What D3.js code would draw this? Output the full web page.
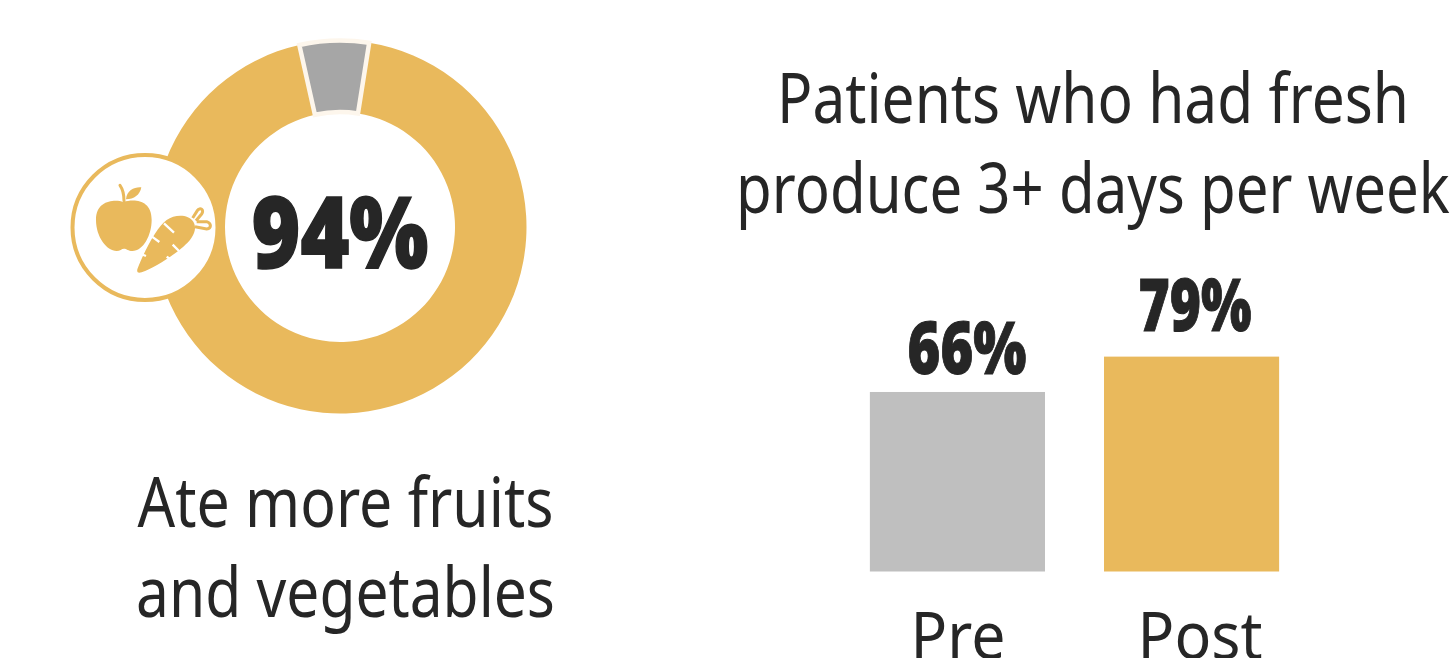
<!DOCTYPE html>
<html>
<head>
<meta charset="utf-8">
<script src="https://cdn.jsdelivr.net/npm/d3@7"></script>
<style>
  html, body { margin: 0; padding: 0; background: #fff; overflow: hidden; }
  text { fill: #262626; font-family: "Noto Sans", sans-serif; }
</style>
</head>
<body>
<div id="chart"></div>
<script>
// Chart values
const donutValues = [94, 6];
const donutCenterLabel = "94%";
const donutCaption = ["Ate more fruits", "and vegetables"];

const barTitle = ["Patients who had fresh", "produce 3+ days per week"];
const barCategories = ["Pre", "Post"];
const barValues = [66, 79];

const gold = "#e9b95c";
const greys = { slice: "#a6a6a6", bar: "#bfbfbf" };

const svg = d3.select("#chart")
    .append("svg")
    .attr("width", 1455)
    .attr("height", 658)
    .style("display", "block");

// Squeeze a text to the width it has in the picture
function label(x, y, str, size, width, weight) {
    const t = svg.append("text")
        .attr("text-anchor", "middle")
        .attr("font-size", size)
        .attr("font-weight", weight || 400)
        .text(str);
    const sx = width / t.node().getComputedTextLength();
    t.attr("transform", `translate(${x},${y}) scale(${sx},1)`);
    return t;
}

// Donut
const pie = d3.pie()
    .sort(null)
    .startAngle(9 * Math.PI / 180)
    .endAngle(369 * Math.PI / 180);
const arc = d3.arc().innerRadius(115).outerRadius(186.5);

const donut = svg.append("g").attr("transform", "translate(340,227)");
donut.selectAll("path")
    .data(pie(donutValues))
    .join("path")
    .attr("d", arc)
    .attr("fill", (d, i) => i === 0 ? gold : greys.slice);
// cream outline sits on top of the grey slice only
donut.append("path")
    .datum(pie(donutValues)[1])
    .attr("d", arc)
    .attr("fill", "none")
    .attr("stroke", "#fdf6ec")
    .attr("stroke-width", 4.5);

label(340, 268, donutCenterLabel, 100, 177, 900)
    .attr("stroke", "#262626")
    .attr("stroke-width", 1.5);

// Icon badge
svg.append("circle")
    .attr("cx", 145)
    .attr("cy", 227.5)
    .attr("r", 72.5)
    .attr("fill", "#fff")
    .attr("stroke", gold)
    .attr("stroke-width", 4);

const icon = svg.append("g").attr("transform", "translate(60,140) scale(0.3333)");
// apple
icon.append("path")
    .attr("fill", gold)
    .attr("d", "M190 186C165 178 108 180 108 240C108 290 140 333 170 333C180 333 185 326 192 326C200 326 205 333 217 333C250 333 275 285 275 240C275 180 225 176 190 186Z");
icon.append("path")
    .attr("fill", gold)
    .attr("d", "M198 178C200 150 225 140 244 142C240 165 222 178 198 178Z");
icon.append("path")
    .attr("fill", "none")
    .attr("stroke", gold)
    .attr("stroke-width", 9)
    .attr("stroke-linecap", "round")
    .attr("d", "M180 136C190 150 192 165 192 182");
// carrot
icon.append("path")
    .attr("fill", "none")
    .attr("stroke", gold)
    .attr("stroke-width", 9)
    .attr("d", "M398 234L412 212C420 200 434 210 425 222L408 242M410 245L440 245C455 250 455 265 440 267L405 260");
icon.append("path")
    .attr("fill", gold)
    .attr("d", "M232 388C250 340 290 260 320 240C345 222 385 222 400 245C415 270 395 300 370 320C335 350 280 385 245 397C235 400 230 398 232 388Z");
icon.append("path")
    .attr("fill", "none")
    .attr("stroke", "#fff")
    .attr("stroke-width", 7)
    .attr("d", "M312 250L342 278M276 290L298 306M338 314L360 336M243 342L258 348M320 350L332 358");

donutCaption.forEach((t, i) => {
    label(345.5, 527 + i * 90, t, 70, i === 0 ? 416 : 419);
});

// Bars
const x = d3.scaleBand()
    .domain(barCategories)
    .range([840, 1309])
    .paddingInner(0.2521)
    .paddingOuter(0.1276);
const y = d3.scaleLinear()
    .domain([0, 100])
    .range([571.5, 299.5]);

svg.selectAll("rect.bar")
    .data(barValues)
    .join("rect")
    .attr("class", "bar")
    .attr("x", (d, i) => x(barCategories[i]))
    .attr("y", d => y(d))
    .attr("width", x.bandwidth())
    .attr("height", d => y(0) - y(d))
    .attr("fill", (d, i) => i === 0 ? greys.bar : gold);

barTitle.forEach((t, i) => {
    label(1093, 123 + i * 90, t, 70, i === 0 ? 632 : 714);
});

const valueCenters = [967, 1195];
barValues.forEach((d, i) => {
    label(valueCenters[i], y(d) - (i === 0 ? 18 : 26), d + "%", 72, i === 0 ? 119 : 113, 900)
        .attr("stroke", "#262626")
        .attr("stroke-width", 1);
});
const catCenters = [958, 1200];
barCategories.forEach((c, i) => {
    label(catCenters[i], 659, c, 65, i === 0 ? 95 : 125);
});
</script>
</body>
</html>
